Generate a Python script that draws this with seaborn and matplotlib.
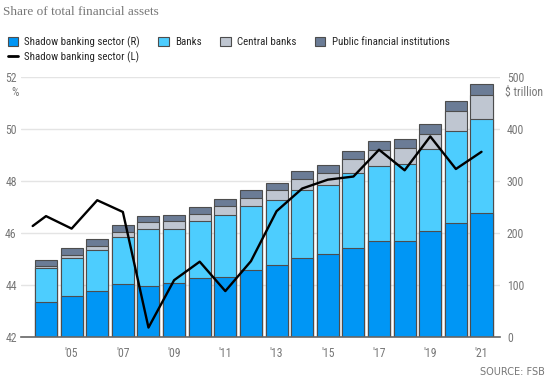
import pandas as pd
import seaborn as sns
import matplotlib.pyplot as plt
from matplotlib import font_manager
from matplotlib.patches import Patch
from matplotlib.lines import Line2D

years = list(range(2004, 2022))
shadow = [67, 78, 88, 101, 98, 104, 113, 116, 129, 139, 152, 159, 171, 185, 185, 203, 219, 238]
banks = [65, 74, 79, 90, 109, 103, 109, 118, 122, 123, 130, 133, 143, 144, 148, 157, 176, 180]
central = [5, 6, 8, 10, 13, 15, 14, 18, 16, 20, 22, 23, 27, 30, 30, 30, 39, 47]
public = [11, 13, 13, 13, 13, 13, 13, 13, 15, 14, 15, 16, 17, 17, 17, 18, 20, 20]

line_years = [2003.48] + years
line_share = [46.26, 46.64, 46.16, 47.25, 46.80, 42.36, 44.18, 44.89, 43.76, 44.91,
              46.83, 47.70, 48.04, 48.16, 49.19, 48.40, 49.70, 48.45, 49.11]

xtick_years = list(range(2005, 2022, 2))
xtick_labels = ["'" + str(y)[2:] for y in xtick_years]

c_shadow = "#0096f5"
c_banks = "#4dcdfe"
c_central = "#bfc6d1"
c_public = "#6b7c96"
edge = "#4d4d4d"
grey_txt = "#777777"

# pick a narrow sans if one is installed
avail = {f.name for f in font_manager.fontManager.ttflist}
narrow = next((f for f in ["Liberation Sans Narrow", "Roboto Condensed", "Roboto"]
               if f in avail), "DejaVu Sans")

sns.set_style("white")
plt.rcParams['font.family'] = [narrow, 'DejaVu Sans']

df = pd.DataFrame({"year": years, "shadow": shadow, "banks": banks,
                   "central": central, "public": public})
df["t_banks"] = df["shadow"] + df["banks"]
df["t_central"] = df["t_banks"] + df["central"]
df["t_public"] = df["t_central"] + df["public"]

fig = plt.figure(figsize=(5.5, 3.79), dpi=100)
ax = fig.add_axes([0.038, 0.111, 0.871, 0.687])

for col, c in [("t_public", c_public), ("t_central", c_central),
               ("t_banks", c_banks), ("shadow", c_shadow)]:
    sns.barplot(data=df, x="year", y=col, native_scale=True, color=c,
                width=0.86, edgecolor=edge, linewidth=0.8, saturation=1,
                ax=ax, zorder=2)

ax2 = ax.twinx()
sns.lineplot(x=line_years, y=line_share, ax=ax2, color="black", lw=1.7)

ax.set_ylim(0, 500)
ax.set_xlim(2003.02, 2021.72)
ax.set_yticks([0, 100, 200, 300, 400, 500])
ax.yaxis.tick_right()
ax.set_xticks(xtick_years)
ax.set_xticklabels(xtick_labels)
ax.set_xlabel("")
ax.set_ylabel("")
ax.grid(axis="y", color="#e4e4e4", lw=1)
ax.set_axisbelow(True)
ax.tick_params(axis="y", length=0, pad=5, labelsize=8.5, labelcolor=grey_txt)
ax.tick_params(axis="x", length=3, color="#cccccc", pad=4, labelsize=8.5,
               labelcolor=grey_txt)
for s in ["top", "left", "right"]:
    ax.spines[s].set_visible(False)
ax.spines["bottom"].set_color("#666666")
ax.spines["bottom"].set_linewidth(1.2)

ax2.set_ylim(42, 52)
ax2.set_yticks([42, 44, 46, 48, 50, 52])
ax2.yaxis.tick_left()
ax2.yaxis.set_label_position("left")
ax2.tick_params(axis="y", length=0, pad=3, labelsize=8.5, labelcolor=grey_txt)
ax2.set_ylabel("")
for s in ax2.spines.values():
    s.set_visible(False)

fig.text(0.027, 0.757, "%", fontsize=8.5, color=grey_txt, ha="center", va="center")
fig.text(0.918, 0.757, "$ trillion", fontsize=8.5, color=grey_txt, ha="left", va="center")

fig.text(0.005, 0.968, "Share of total financial assets", fontsize=9.5,
         color=grey_txt, family="Liberation Serif", ha="left", va="center")

handles = [Patch(facecolor=c_shadow, edgecolor=edge, lw=0.8),
           Line2D([0], [0], color="black", lw=2),
           Patch(facecolor=c_banks, edgecolor=edge, lw=0.8),
           Patch(facecolor=c_central, edgecolor=edge, lw=0.8),
           Patch(facecolor=c_public, edgecolor=edge, lw=0.8)]
labels = ["Shadow banking sector (R)", "Shadow banking sector (L)", "Banks",
          "Central banks", "Public financial institutions"]
fig.legend(handles, labels, loc="upper left", bbox_to_anchor=(0.0, 0.925),
           ncol=4, frameon=False, fontsize=7.8, handlelength=0.95, handleheight=0.95,
           handletextpad=0.6, columnspacing=1.7, labelspacing=0.35,
           borderaxespad=0.3)

fig.text(0.99, 0.018, "SOURCE: FSB", fontsize=7, color=grey_txt,
         family="DejaVu Sans", ha="right", va="center")

fig.savefig("out.png", dpi=100)
